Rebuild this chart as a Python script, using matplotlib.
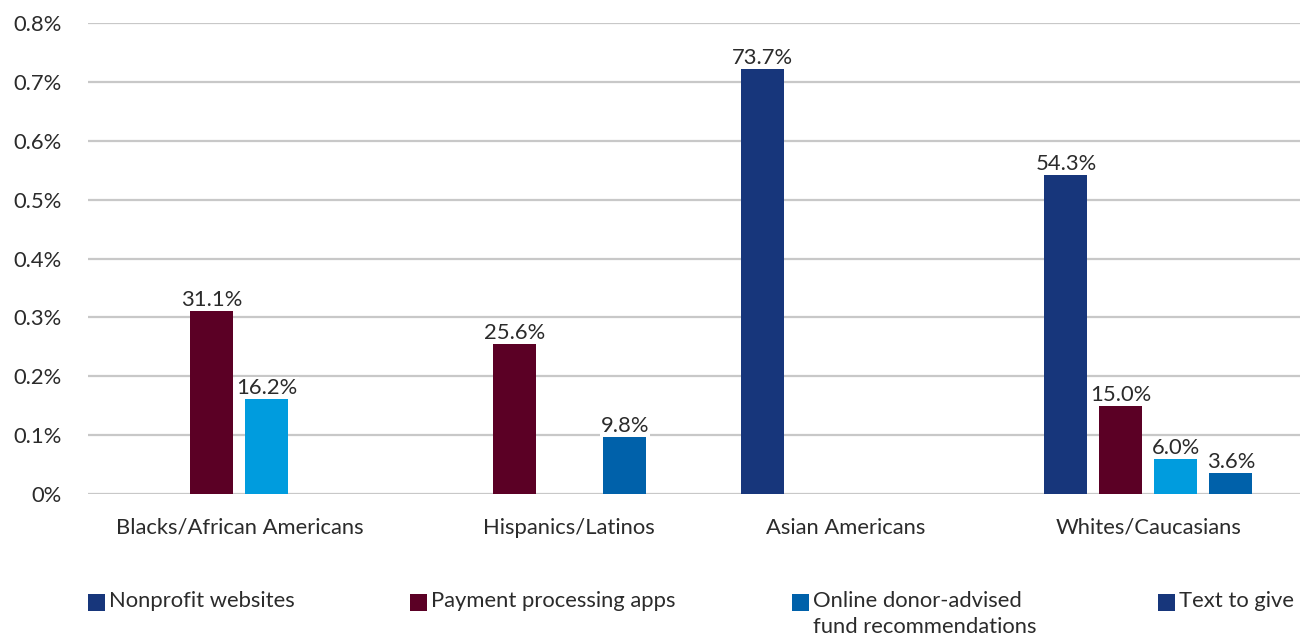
import numpy as np
import matplotlib
matplotlib.use("Agg")
import matplotlib.pyplot as plt
from matplotlib.patches import Rectangle
import matplotlib.transforms as mtransforms

plt.rcParams['font.family'] = ['Lato', 'DejaVu Sans']
FONT_SIZE = 15.8
TEXT_COLOR = '#2b2b2b'

# data (nan = no bar)
groups = ['Blacks/African Americans', 'Hispanics/Latinos', 'Asian Americans', 'Whites/Caucasians']
series = ['Nonprofit websites', 'Payment processing apps',
          'Online donor-advised\nfund recommendations', 'Text to give']
nonprofit = [np.nan, np.nan, 0.722, 0.543]
payment = [0.311, 0.256, np.nan, 0.150]
online_daf = [0.162, np.nan, np.nan, 0.060]
text_to_give = [np.nan, 0.098, np.nan, 0.036]
nonprofit_lbl = ['', '', '73.7%', '54.3%']
payment_lbl = ['31.1%', '25.6%', '', '15.0%']
online_daf_lbl = ['16.2%', '', '', '6.0%']
text_to_give_lbl = ['', '9.8%', '', '3.6%']
yticks = [0, 0.1, 0.2, 0.3, 0.4, 0.5, 0.6, 0.7, 0.8]
ytick_labels = ['0%', '0.1%', '0.2%', '0.3%', '0.4%', '0.5%', '0.6%', '0.7%', '0.8%']

bar_colors = ['#17367B', '#5B0025', '#009CDE', '#0061AA']
legend_colors = ['#17367B', '#5B0025', '#0061AA', '#17367B']
legend_x = [0.0672, 0.3132, 0.605, 0.885]  # left edge of each legend square (figure fraction)

fig = plt.figure(figsize=(13.09, 6.42), dpi=100)
ax = fig.add_axes([0.0672, 0.2305, 0.9258, 0.7335])

x = np.arange(len(groups))
slot = 0.1815
width = 0.142
all_vals = [nonprofit, payment, online_daf, text_to_give]
all_lbls = [nonprofit_lbl, payment_lbl, online_daf_lbl, text_to_give_lbl]
for i, (vals, lbls) in enumerate(zip(all_vals, all_lbls)):
    pos = x + (i - 1.5) * slot
    bars = ax.bar(pos, vals, width, color=bar_colors[i], zorder=3)
    for b, lbl in zip(bars, lbls):
        if lbl:
            ax.annotate(lbl, (b.get_x() + b.get_width() / 2, b.get_height()),
                        xytext=(0, 0.5), textcoords='offset points',
                        ha='center', va='bottom', fontsize=FONT_SIZE, color=TEXT_COLOR,
                        bbox=dict(boxstyle='square,pad=0.05', fc='white', ec='none'),
                        zorder=4)

ax.set_xlim(-0.5, 3.5)
ax.set_ylim(0, 0.8)
ax.set_yticks(yticks)
ax.set_yticklabels(ytick_labels)
ax.set_xticks(x)
ax.set_xticklabels(groups)
ax.tick_params(axis='both', length=0, labelsize=FONT_SIZE, colors=TEXT_COLOR)
ax.tick_params(axis='y', pad=19)
ax.tick_params(axis='x', pad=17)
for s in ax.spines.values():
    s.set_visible(False)
ax.grid(axis='y', color='#C8C8C8', linewidth=1.6, zorder=0)
ax.set_axisbelow(True)

# the Hispanics/Latinos label sits a bit right of its group in the original
lab = ax.get_xticklabels()[1]
lab.set_transform(lab.get_transform() + mtransforms.ScaledTranslation(0.26, 0, fig.dpi_scale_trans))

# legend drawn by hand so the square lines up with the first text line
sq_w = 17 / 1309
sq_h = 17 / 642
leg_y = 1 - 602 / 642
for lx, c, name in zip(legend_x, legend_colors, series):
    fig.add_artist(Rectangle((lx, leg_y - sq_h / 2), sq_w, sq_h, transform=fig.transFigure,
                             facecolor=c, edgecolor='none'))
    fig.text(lx + sq_w + 4 / 1309, leg_y + 11 / 642, name, ha='left', va='top',
             fontsize=FONT_SIZE, color=TEXT_COLOR, linespacing=1.4)

fig.savefig('out.png', dpi=100)
